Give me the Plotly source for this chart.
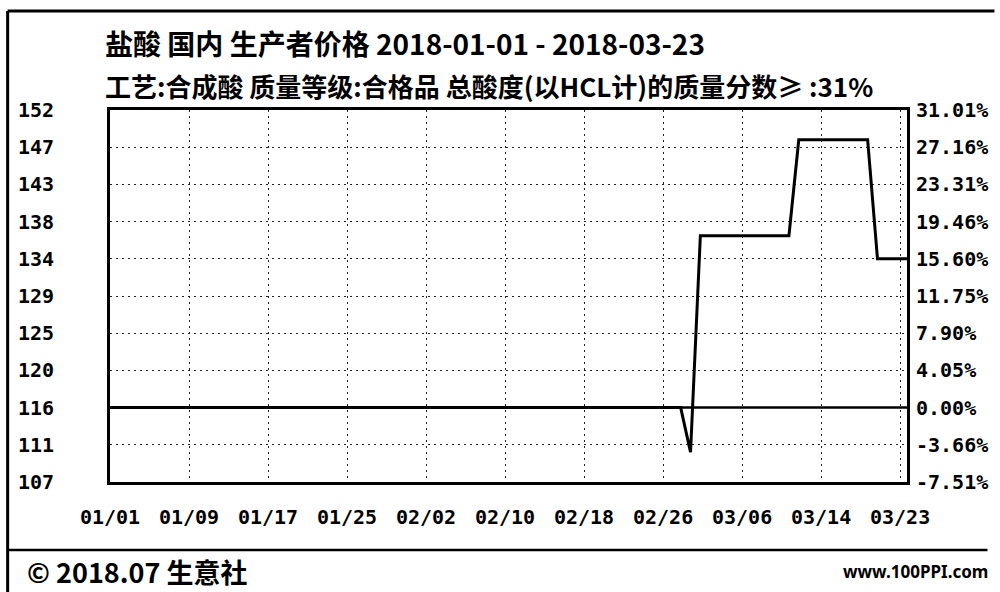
import pandas as pd
import plotly.graph_objects as go

# ---- data ----
dates = ["2018-01-01", "2018-02-28", "2018-03-01", "2018-03-02", "2018-03-11",
         "2018-03-12", "2018-03-19", "2018-03-20", "2018-03-23"]
prices = [116.0, 116.0, 110.6, 136.8, 136.8, 148.4, 148.4, 134.0, 134.0]

base_price = 116.0
y_tick_vals = [107, 111.5, 116, 120.5, 125, 129.5, 134, 138.5, 143, 147.5, 152]
y_left_labels = ["107", "111", "116", "120", "125", "129", "134", "138", "143", "147", "152"]
y_right_labels = ["-7.51%", "-3.66%", "0.00%", "4.05%", "7.90%", "11.75%",
                  "15.60%", "19.46%", "23.31%", "27.16%", "31.01%"]
x_tick_labels = ["01/01", "01/09", "01/17", "01/25", "02/02", "02/10",
                 "02/18", "02/26", "03/06", "03/14", "03/23"]

title = "盐酸 国内 生产者价格 2018-01-01 - 2018-03-23"
subtitle = "工艺:合成酸 质量等级:合格品 总酸度(以HCL计)的质量分数≥ :31%"
footer_left = "© 2018.07 生意社"
footer_right = "www.100PPI.com"

start = pd.Timestamp("2018-01-01")
end = pd.Timestamp("2018-03-23")
tick_step = pd.Timedelta(days=8.03)
x_tick_vals = [start + k * tick_step for k in range(len(x_tick_labels))]

x = pd.to_datetime(dates)

TICKFONT = dict(family="DejaVu Sans Mono", size=20, color="black", weight="bold")
CJK = "Noto Sans CJK SC"

fig = go.Figure()
fig.add_trace(go.Scatter(x=x, y=prices, mode="lines",
                         line=dict(color="black", width=3), showlegend=False))
# invisible trace to activate right axis
fig.add_trace(go.Scatter(x=x, y=prices, yaxis="y2", mode="lines",
                         line=dict(width=0), opacity=0, showlegend=False,
                         hoverinfo="skip"))

grid = dict(showgrid=True, gridcolor="#222", griddash="2px,4px", gridwidth=1)

fig.update_layout(
    width=1000, height=592,
    paper_bgcolor="white", plot_bgcolor="white",
    margin=dict(l=110, r=88, t=110, b=110),
    xaxis=dict(type="date", range=[start, end], tickvals=x_tick_vals,
               ticktext=x_tick_labels, tickfont=TICKFONT, ticks="",
               ticklabelstandoff=15, showline=True, linecolor="black",
               linewidth=3, mirror=True, zeroline=False, **grid),
    yaxis=dict(range=[107, 152], tickvals=y_tick_vals, ticktext=y_left_labels,
               tickfont=TICKFONT, ticks="", ticklabelstandoff=49,
               showline=True, linecolor="black", linewidth=3, mirror=True,
               zeroline=False, **grid),
    yaxis2=dict(range=[107, 152], tickvals=y_tick_vals, ticktext=y_right_labels,
                tickfont=TICKFONT, ticks="", overlaying="y", side="right",
                ticklabelstandoff=8, showgrid=False, zeroline=False,
                showline=False),
)

# base (0%) reference line
fig.add_shape(type="line", xref="paper", yref="y", x0=0, x1=1,
              y0=base_price, y1=base_price, line=dict(color="black", width=2.5))

# outer frame & separator
fig.add_shape(type="line", xref="paper", yref="paper",
              x0=-103 / 802, x1=1 + 88 / 802, y0=1 + 99 / 372, y1=1 + 99 / 372,
              line=dict(color="black", width=3))
fig.add_shape(type="line", xref="paper", yref="paper",
              x0=-103 / 802, x1=-103 / 802, y0=1 + 99 / 372, y1=-110 / 372,
              line=dict(color="black", width=3))
fig.add_shape(type="line", xref="paper", yref="paper",
              x0=-103 / 802, x1=(993 - 110) / 802, y0=-(550 - 482) / 372,
              y1=-(550 - 482) / 372, line=dict(color="black", width=2.5))

fig.add_annotation(text=title, xref="paper", yref="paper", x=-7 / 802,
                   y=1 + (110 - 43) / 372, xanchor="left", yanchor="middle",
                   showarrow=False, font=dict(family=CJK, size=28, color="black",
                                              weight="bold"))
fig.add_annotation(text=subtitle, xref="paper", yref="paper", x=-7 / 802,
                   y=1 + (110 - 85) / 372, xanchor="left", yanchor="middle",
                   showarrow=False, font=dict(family=CJK, size=26, color="black",
                                              weight="bold"))
fig.add_annotation(text=footer_left, xref="paper", yref="paper", x=-(110 - 24) / 802,
                   y=-(571 - 482) / 372, xanchor="left", yanchor="middle",
                   showarrow=False, font=dict(family=CJK, size=27, color="black",
                                              weight="bold"))
fig.add_annotation(text=footer_right, xref="paper", yref="paper", x=(996 - 110) / 802,
                   y=-(571 - 482) / 372, xanchor="right", yanchor="middle",
                   showarrow=False, font=dict(family="Noto Sans", size=17,
                                              color="black", weight="bold"))

fig.write_html("out.html", post_script="document.body.style.margin='0';",
               config={"displayModeBar": False})
